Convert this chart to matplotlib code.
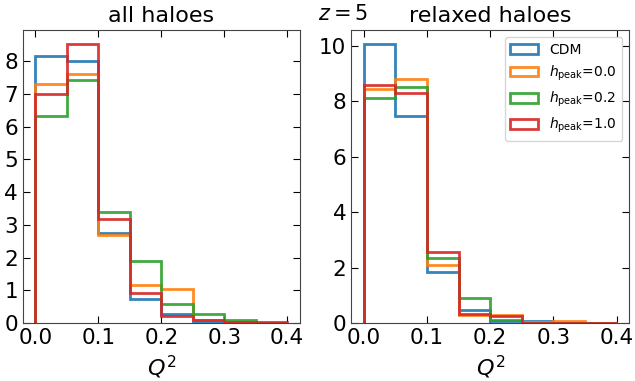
import numpy as np
import matplotlib
matplotlib.use('Agg')
import matplotlib.pyplot as plt
from matplotlib.ticker import MultipleLocator

# Q^2 bin edges and normalised counts per model
edges = np.arange(0, 0.4001, 0.05)
labels = ['CDM', r'$h_{\rm peak}$=0.0', r'$h_{\rm peak}$=0.2', r'$h_{\rm peak}$=1.0']
colors = ['tab:blue', 'tab:orange', 'tab:green', 'tab:red']

all_cdm = [8.15, 8.0, 2.75, 0.74, 0.29, 0.03, 0.0, 0.0]
all_h00 = [7.3, 7.62, 2.68, 1.17, 1.04, 0.1, 0.03, 0.0]
all_h02 = [6.32, 7.42, 3.39, 1.89, 0.59, 0.27, 0.1, 0.0]
all_h10 = [6.99, 8.52, 3.17, 0.93, 0.23, 0.1, 0.03, 0.02]

rel_cdm = [10.07, 7.47, 1.84, 0.49, 0.06, 0.06, 0.0, 0.0]
rel_h00 = [8.43, 8.82, 2.11, 0.28, 0.3, 0.05, 0.07, 0.0]
rel_h02 = [8.13, 8.53, 2.35, 0.9, 0.1, 0.0, 0.0, 0.0]
rel_h10 = [8.59, 8.29, 2.55, 0.32, 0.27, 0.0, 0.0, 0.0]

plt.rcParams['xtick.direction'] = 'in'
plt.rcParams['ytick.direction'] = 'in'
plt.rcParams['xtick.top'] = True
plt.rcParams['ytick.right'] = True
plt.rcParams['xtick.major.size'] = 5
plt.rcParams['ytick.major.size'] = 5

fig = plt.figure(figsize=(6.35, 3.81), dpi=100)
ax1 = fig.add_axes([0.036, 0.152, 0.436, 0.769])
ax2 = fig.add_axes([0.553, 0.152, 0.438, 0.769])

centers = 0.5 * (edges[1:] + edges[:-1])
for ax, data, title in [(ax1, [all_cdm, all_h00, all_h02, all_h10], 'all haloes'),
                        (ax2, [rel_cdm, rel_h00, rel_h02, rel_h10], 'relaxed haloes')]:
    for vals, c, lab in zip(data, colors, labels):
        ax.hist(centers, bins=edges, weights=vals, histtype='step',
                color=c, lw=2, alpha=0.9, label=lab)
    ax.set_title(title, fontsize=16)
    ax.set_xlabel(r'$Q^2$', fontsize=16)
    ax.set_xticks([0.0, 0.1, 0.2, 0.3, 0.4])
    ax.tick_params(labelsize=15.5)
    for s in ax.spines.values():
        s.set_color('#444444')

ax1.yaxis.set_major_locator(MultipleLocator(1))
ax2.legend(loc='upper right', fontsize=10)
fig.text(0.5, 0.962, r'$z=5$', fontsize=15, va='center')

plt.savefig('out.png', dpi=100)
